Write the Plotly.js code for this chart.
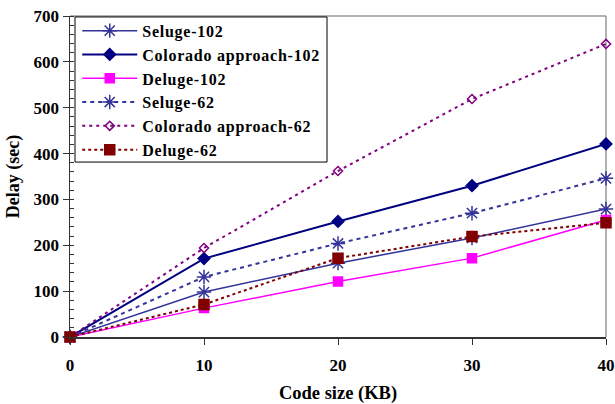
<!DOCTYPE html>
<html><head><meta charset="utf-8">
<script src="https://cdn.plot.ly/plotly-3.0.1.min.js"></script>
<style>html,body{margin:0;padding:0;background:#fff}#c{width:615px;height:404px}
.legendtext{letter-spacing:0.75px}</style>
</head><body><div id="c"></div>
<script>
const codeSize = [0, 10, 20, 30, 40];
const seluge102 = [0, 98, 161, 216, 279];
const colorado102 = [0, 171, 252, 330, 421];
const deluge102 = [0, 63, 121, 172, 255];
const seluge62 = [0, 131, 204, 270, 346];
const colorado62 = [0, 194, 362, 519, 639];
const deluge62 = [0, 71, 172, 219, 249];
const seriesNames = ["Seluge-102","Colorado approach-102","Deluge-102","Seluge-62","Colorado approach-62","Deluge-62"];

function tr(y, name, color, dash, symbol, msize, width){
  return {x: codeSize, y: y, name: name, type:'scatter', mode:'lines+markers', cliponaxis:false,
    line:{color:color, width:width||1.5, dash:dash},
    marker:{symbol:symbol, size:msize, color:color, line:{color:color, width:1.5}}};
}
const data = [
  tr(seluge102, seriesNames[0], '#333399', 'solid', 'asterisk-open', 12),
  tr(colorado102, seriesNames[1], '#000080', 'solid', 'diamond', 9, 2),
  tr(deluge102, seriesNames[2], '#FF00FF', 'solid', 'square', 9),
  tr(seluge62, seriesNames[3], '#333399', '4px,4px', 'asterisk-open', 12, 2),
  tr(colorado62, seriesNames[4], '#800080', '3px,4px', 'diamond-open', 7, 2),
  tr(deluge62, seriesNames[5], '#800000', '3px,3px', 'square', 10, 2)
];
const fam = '"Liberation Serif", "Times New Roman", serif';
const layout = {
  width:615, height:404,
  margin:{l:70, r:9, t:16, b:67},
  paper_bgcolor:'#fff', plot_bgcolor:'#fff',
  font:{family:fam, size:17, color:'#000', weight:'bold'},
  showlegend:true,
  legend:{x:0.0135, y:1.007, xanchor:'left', yanchor:'top', bgcolor:'rgba(0,0,0,0)', borderwidth:0,
    font:{family:fam, size:16, color:'#000', weight:'bold'}, tracegroupgap:0, itemwidth:55},
  xaxis:{range:[0,40], tickvals:codeSize, showgrid:false, zeroline:false, showline:true, linecolor:'#333', linewidth:1.5,
    ticks:'outside', ticklen:6, tickcolor:'#333', ticklabelstandoff:6,
    tickfont:{family:fam, size:17, color:'#000', weight:'bold'},
    title:{text:'Code size (KB)', font:{family:fam, size:18.5, color:'#000', weight:'bold'}, standoff:14}},
  yaxis:{range:[0,700], dtick:100, showgrid:false, zeroline:false, showline:true, linecolor:'#333', linewidth:1.5,
    ticks:'outside', ticklen:6, tickcolor:'#333',
    minor:{dtick:20, ticks:'inside', ticklen:4, tickcolor:'#333', showgrid:false},
    tickfont:{family:fam, size:17, color:'#000', weight:'bold'},
    title:{text:'Delay (sec)', font:{family:fam, size:18, color:'#000', weight:'bold'}, standoff:9}},
  shapes:[
    {type:'line', xref:'paper', yref:'paper', x0:0, x1:1, y0:1, y1:1, line:{color:'#999', width:1.5}, layer:'below'},
    {type:'line', xref:'paper', yref:'paper', x0:1, x1:1, y0:0, y1:1, line:{color:'#999', width:1.5}, layer:'below'},
    {type:'rect', xref:'paper', yref:'paper', x0:0.0093, x1:0.4795, y0:0.545, y1:0.997, fillcolor:'#fff', line:{color:'#000', width:1}, layer:'below'}
  ]
};
Plotly.newPlot('c', data, layout, {displayModeBar:false, staticPlot:true});
</script></body></html>
